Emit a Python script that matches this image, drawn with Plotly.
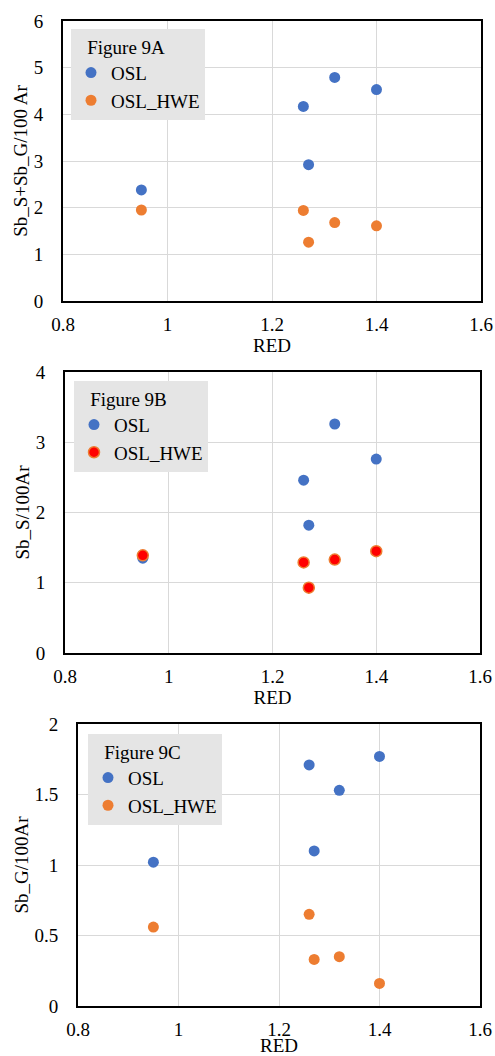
import plotly.graph_objects as go

# RED values shared by all three panels
red = [0.95, 1.26, 1.27, 1.32, 1.40]

# Figure 9A: Sb_S + Sb_G per 100 Ar
a_osl = [2.38, 4.17, 2.92, 4.79, 4.53]
a_hwe = [1.95, 1.94, 1.26, 1.68, 1.61]

# Figure 9B: Sb_S per 100 Ar
b_osl = [1.35, 2.46, 1.82, 3.26, 2.76]
b_hwe = [1.39, 1.29, 0.93, 1.33, 1.45]

# Figure 9C: Sb_G per 100 Ar
c_osl = [1.02, 1.71, 1.10, 1.53, 1.77]
c_hwe = [0.56, 0.65, 0.33, 0.35, 0.16]

x_ticks = [0.8, 1.0, 1.2, 1.4, 1.6]
x_ticktext = ["0.8", "1", "1.2", "1.4", "1.6"]

BLUE = "#4472C4"
ORANGE = "#ED7D31"
RED_FILL = "#FF0000"
GRID = "#D9D9D9"
FONT = "Liberation Serif"

W, H = 495, 1056

fig = go.Figure()

panels = [
    dict(name="Figure 9A", osl=a_osl, hwe=a_hwe, ax="", leg="legend",
         hwe_fill=ORANGE, hwe_line=ORANGE),
    dict(name="Figure 9B", osl=b_osl, hwe=b_hwe, ax="2", leg="legend2",
         hwe_fill=RED_FILL, hwe_line=ORANGE),
    dict(name="Figure 9C", osl=c_osl, hwe=c_hwe, ax="3", leg="legend3",
         hwe_fill=ORANGE, hwe_line=ORANGE),
]

for p in panels:
    fig.add_trace(go.Scatter(
        x=red, y=p["osl"], mode="markers", name="OSL",
        marker=dict(color=BLUE, size=11, line=dict(width=0)),
        xaxis="x" + p["ax"], yaxis="y" + p["ax"], legend=p["leg"],
    ))
    fig.add_trace(go.Scatter(
        x=red, y=p["hwe"], mode="markers", name="OSL_HWE",
        marker=dict(color=p["hwe_fill"], size=11,
                    line=dict(width=1.5 if p["hwe_fill"] != p["hwe_line"] else 0,
                              color=p["hwe_line"])),
        xaxis="x" + p["ax"], yaxis="y" + p["ax"], legend=p["leg"],
    ))


def px_x(v):
    return v / W


def px_y(v):
    return 1 - v / H


def xaxis(left, right, anchor, standoff):
    return dict(
        domain=[px_x(left), px_x(right)], anchor=anchor, automargin=False,
        range=[0.8, 1.6], tickvals=x_ticks, ticktext=x_ticktext,
        showgrid=True, gridcolor=GRID, gridwidth=1,
        showline=True, linecolor="black", linewidth=2, mirror=True,
        zeroline=False, ticks="", ticklabelstandoff=5,
        tickfont=dict(family=FONT, size=19, color="black"),
        title=dict(text="RED", font=dict(family=FONT, size=19, color="black"),
                   standoff=standoff),
    )


def yaxis(top, bottom, anchor, rng, tickvals, ticktext, title):
    return dict(
        domain=[px_y(bottom), px_y(top)], anchor=anchor, automargin=False,
        range=rng, tickvals=tickvals, ticktext=ticktext,
        showgrid=True, gridcolor=GRID, gridwidth=1,
        showline=True, linecolor="black", linewidth=2, mirror=True,
        zeroline=False, ticks="", ticklabelstandoff=14,
        tickfont=dict(family=FONT, size=19, color="black"),
        title=dict(text=title, font=dict(family=FONT, size=19, color="black"),
                   standoff=1),
    )


def legend(left, top, title):
    return dict(
        x=px_x(left), y=px_y(top), xanchor="left", yanchor="top",
        bgcolor="#E5E5E5", borderwidth=0,
        title=dict(text="\u00a0\u00a0\u00a0" + title,
                   font=dict(family=FONT, size=19, color="black")),
        font=dict(family=FONT, size=19, color="black"),
        itemwidth=30, tracegroupgap=0,
    )


fig.update_layout(
    width=W, height=H,
    margin=dict(l=0, r=0, t=0, b=0, autoexpand=False),
    font=dict(family=FONT, size=19, color="black"),
    paper_bgcolor="white", plot_bgcolor="white",
    showlegend=True,
    xaxis=xaxis(63, 481, "y", 0),
    yaxis=yaxis(21, 301, "x", [0, 6], [0, 1, 2, 3, 4, 5, 6],
                ["0", "1", "2", "3", "4", "5", "6"], "Sb_S+Sb_G/100 Ar"),
    xaxis2=xaxis(65, 480, "y2", 0),
    yaxis2=yaxis(372, 653, "x2", [0, 4], [0, 1, 2, 3, 4],
                 ["0", "1", "2", "3", "4"], "Sb_S/100Ar"),
    xaxis3=xaxis(78, 480, "y3", 4),
    yaxis3=yaxis(724, 1006, "x3", [0, 2], [0, 0.5, 1, 1.5, 2],
                 ["0", "0.5", "1", "1.5", "2"], "Sb_G/100Ar"),
    legend=legend(71, 29, "Figure 9A"),
    legend2=legend(74, 381, "Figure 9B"),
    legend3=legend(88, 734, "Figure 9C"),
)

fig.write_html("out.html")
